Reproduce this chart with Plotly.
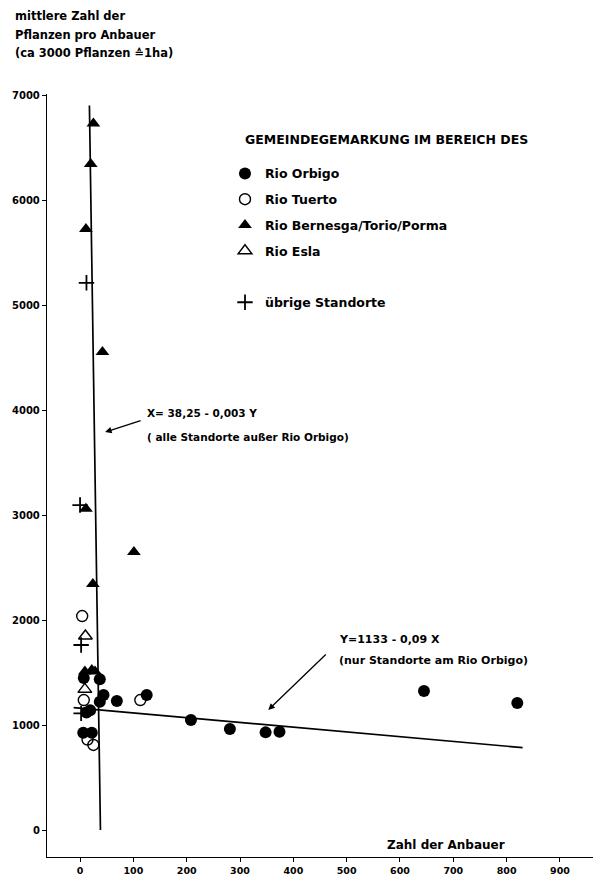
import plotly.graph_objects as go

# ---- data ----
orbigo_x = [7, 37, 44, 37, 69, 19, 12, 6, 22, 125, 208, 281, 348, 374, 645, 820]
orbigo_y = [1448, 1435, 1286, 1222, 1228, 1140, 1120, 927, 927, 1286, 1048, 962, 930, 936, 1324, 1210]

tuerto_x = [4, 7, 113, 14, 25]
tuerto_y = [2038, 1238, 1238, 862, 810]

bernesga_x = [25, 20, 11, 42, 11, 101, 24, 9, 22, 28]
bernesga_y = [6730, 6343, 5724, 4552, 3060, 2648, 2343, 1510, 1524, 1510]

esla_x = [10, 9]
esla_y = [1848, 1340]

uebrige_x = [12, 0, 2, 2]
uebrige_y = [5212, 3095, 1762, 1111]

# regression line X = 38.25 - 0.003 Y (alle Standorte außer Rio Orbigo)
fit1_y = [0, 6900]
fit1_x = [38.25 - 0.003 * v for v in fit1_y]
# regression line for Rio Orbigo, as drawn
fit2_x = [-12, 830]
fit2_y = [1165, 785]

x_ticks = [0, 100, 200, 300, 400, 500, 600, 700, 800, 900]
y_ticks = [0, 1000, 2000, 3000, 4000, 5000, 6000, 7000]

FONT = "DejaVu Sans"

fig = go.Figure()

fig.add_trace(go.Scatter(x=fit1_x, y=fit1_y, mode="lines",
                         line=dict(color="black", width=1.7), showlegend=False, hoverinfo="skip"))
fig.add_trace(go.Scatter(x=fit2_x, y=fit2_y, mode="lines",
                         line=dict(color="black", width=1.7), showlegend=False, hoverinfo="skip"))

fig.add_trace(go.Scatter(x=orbigo_x, y=orbigo_y, mode="markers", name="Rio Orbigo",
                         legendgroup="a",
                         marker=dict(symbol="circle", size=12, color="black")))
fig.add_trace(go.Scatter(x=tuerto_x, y=tuerto_y, mode="markers", name="Rio Tuerto",
                         legendgroup="b",
                         marker=dict(symbol="circle-open", size=11, color="black",
                                     line=dict(width=1.4, color="black"))))
fig.add_trace(go.Scatter(x=bernesga_x, y=bernesga_y, mode="markers", name="Rio Bernesga/Torio/Porma",
                         legendgroup="c",
                         marker=dict(symbol="triangle-up", size=12, color="black")))
fig.add_trace(go.Scatter(x=esla_x, y=esla_y, mode="markers", name="Rio Esla",
                         legendgroup="d",
                         marker=dict(symbol="triangle-up-open", size=12, color="black",
                                     line=dict(width=1.4, color="black"))))
fig.add_trace(go.Scatter(x=[None], y=[None], mode="markers", name=" ",
                         legendgroup="e",
                         marker=dict(symbol="circle", size=1, color="rgba(0,0,0,0)")))
fig.add_trace(go.Scatter(x=uebrige_x, y=uebrige_y, mode="markers", name="übrige Standorte",
                         legendgroup="f",
                         marker=dict(symbol="cross-thin", size=11, color="black",
                                     line=dict(width=1.8, color="black"))))

annots = []
def txt(text, x, y, size, xref="x", yref="y", xanchor="left"):
    annots.append(dict(text=text, x=x, y=y, xref=xref, yref=yref, xanchor=xanchor,
                       yanchor="middle", showarrow=False,
                       font=dict(family=FONT, size=size, color="black", weight="bold")))

# top-left axis title
txt("mittlere Zahl der", -0.062, 1.102, 11.5, "paper", "paper")
txt("Pflanzen pro Anbauer", -0.062, 1.077, 11.5, "paper", "paper")
txt("(ca 3000 Pflanzen ≙1ha)", -0.062, 1.054, 11.5, "paper", "paper")

txt("GEMEINDEGEMARKUNG IM BEREICH DES", 0.359, 0.94, 12.5, "paper", "paper")

txt("X= 38,25 - 0,003 Y", 122, 3971, 10.5)
txt("( alle Standorte außer Rio Orbigo)", 122, 3743, 10.5)
txt("Y=1133 - 0,09 X", 482, 1810, 11)
txt("(nur Standorte am Rio Orbigo)", 482, 1619, 11)
txt("Zahl der Anbauer", 687, -143, 12, xanchor="center")

annots.append(dict(x=47, y=3790, ax=37, ay=-12, xref="x", yref="y", text="",
                   showarrow=True, arrowhead=2, arrowsize=1, arrowwidth=1.3, arrowcolor="black"))
annots.append(dict(x=353, y=1143, ax=59, ay=-57, xref="x", yref="y", text="",
                   showarrow=True, arrowhead=2, arrowsize=1, arrowwidth=1.3, arrowcolor="black"))

fig.update_layout(
    width=593, height=876,
    margin=dict(l=47, r=0, t=94, b=19),
    paper_bgcolor="white", plot_bgcolor="white",
    font=dict(family=FONT, size=10, color="black"),
    annotations=annots,
    showlegend=True,
    legend=dict(x=0.326, y=0.915, xanchor="left", yanchor="top",
                traceorder="grouped", tracegroupgap=6.5,
                bgcolor="rgba(0,0,0,0)",
                font=dict(family=FONT, size=12.5, color="black", weight="bold")),
    xaxis=dict(range=[-62, 962], tickvals=x_ticks, ticktext=[str(v) for v in x_ticks],
               automargin=False,
               showgrid=False, zeroline=False, showline=True, linecolor="black", linewidth=1.3,
               ticks="outside", ticklen=4, tickwidth=1, tickcolor="black",
               tickfont=dict(family=FONT, size=9.5, color="black", weight="bold")),
    yaxis=dict(range=[-257, 7010], tickvals=y_ticks, ticktext=[str(v) for v in y_ticks],
               automargin=False,
               showgrid=False, zeroline=False, showline=True, linecolor="black", linewidth=1.3,
               ticks="outside", ticklen=4, tickwidth=1, tickcolor="black",
               tickfont=dict(family=FONT, size=10, color="black", weight="bold")),
)

fig.write_html("out.html", config={"displayModeBar": False},
               post_script="document.body.style.margin='0';document.body.style.overflow='hidden';")
